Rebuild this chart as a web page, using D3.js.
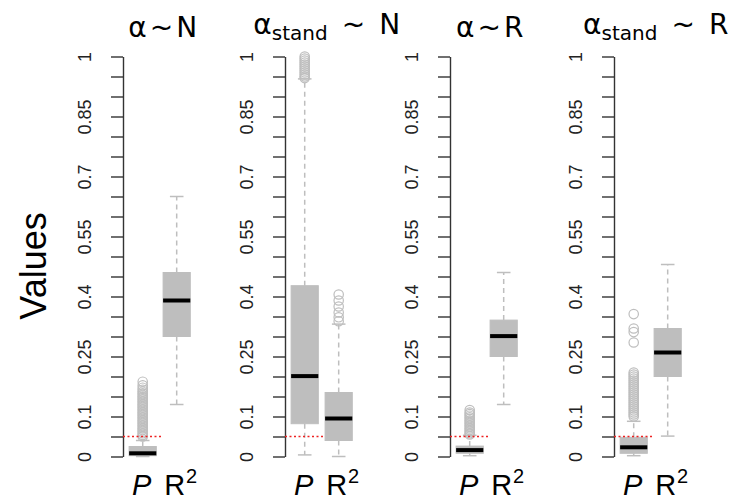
<!DOCTYPE html>
<html>
<head>
<meta charset="utf-8">
<script src="https://cdn.jsdelivr.net/npm/d3@7"></script>
<style>
  body { margin: 0; background: #fff; }
  svg { display: block; }
</style>
</head>
<body>
<script>
// panels (titles split into base / subscript / rest)
const titleBase = ["α", "α", "α", "α"];
const titleSub = ["", "stand", "", "stand"];
const titleRest = ["N", "N", "R", "R"];
const groups = ["P", "R"];

// box stats: [lower whisker, q1, median, q3, upper whisker]
const pStats = [
    [0.0, 0.002, 0.008, 0.025, 0.04],
    [0.004, 0.082, 0.201, 0.427, 0.944],
    [0.002, 0.008, 0.016, 0.026, 0.053],
    [0.002, 0.008, 0.023, 0.048, 0.088]
];
const r2Stats = [
    [0.13, 0.30, 0.39, 0.46, 0.65],
    [0.0, 0.04, 0.095, 0.16, 0.331],
    [0.13, 0.25, 0.301, 0.341, 0.46],
    [0.051, 0.20, 0.26, 0.32, 0.48]
];
const pOutliers = [
    [0.187, 0.178, 0.172, 0.167, 0.162, 0.158, 0.154, 0.150, 0.146, 0.142, 0.138, 0.134, 0.130,
     0.126, 0.122, 0.118, 0.114, 0.110, 0.106, 0.102, 0.098, 0.094, 0.090, 0.086, 0.082, 0.078,
     0.074, 0.070, 0.066, 0.062, 0.058, 0.054, 0.050],
    [1.0, 0.995, 0.99, 0.985, 0.98, 0.975, 0.97, 0.965, 0.96, 0.955, 0.95, 0.946],
    [0.116, 0.110, 0.106, 0.102, 0.098, 0.094, 0.090, 0.086, 0.082, 0.078, 0.074, 0.070, 0.066,
     0.062, 0.058, 0.055],
    [0.356, 0.320, 0.311, 0.285, 0.210, 0.205, 0.200, 0.195, 0.190, 0.185, 0.180, 0.175, 0.170,
     0.165, 0.160, 0.155, 0.150, 0.145, 0.140, 0.135, 0.130, 0.125, 0.120, 0.115, 0.110, 0.105,
     0.100]
];
const r2Outliers = [
    [],
    [0.405, 0.39, 0.375, 0.36, 0.348, 0.338],
    [],
    []
];

const tickValues = [0, 0.05, 0.1, 0.15, 0.2, 0.25, 0.3, 0.35, 0.4, 0.45, 0.5,
    0.55, 0.6, 0.65, 0.7, 0.75, 0.8, 0.85, 0.9, 0.95, 1];
const tickLabels = [1, 0.85, 0.7, 0.55, 0.4, 0.25, 0.1, 0];
const threshold = 0.05;

const width = 733, height = 502;
const axisX = [123, 285, 450, 614];
const boxGrey = "#bebebe";

const svg = d3.select("body").append("svg")
    .attr("width", width)
    .attr("height", height);

const y = d3.scaleLinear().domain([0, 1]).range([456.5, 56.5]);

// y label
svg.append("text")
    .attr("transform", "translate(46,266) rotate(-90)")
    .attr("text-anchor", "middle")
    .style("font-family", "Liberation Sans, Arial, sans-serif")
    .style("font-size", "36px")
    .text("Values");

titleBase.forEach((t, i) => {
    const x = d3.scaleLinear().domain([0.42, 2.58]).range([axisX[i], axisX[i] + 73.4]);
    const g = svg.append("g");

    // axis
    const axis = d3.axisLeft(y)
        .tickValues(tickValues)
        .tickSize(12)
        .tickSizeOuter(0)
        .tickFormat("");
    const ag = g.append("g")
        .attr("transform", `translate(${axisX[i]},0)`)
        .call(axis);
    ag.select(".domain").attr("stroke", "#333").attr("stroke-width", 1.4);
    ag.selectAll(".tick line").attr("stroke", "#333").attr("stroke-width", 1.4);
    ag.selectAll(".tick")
        .filter(d => tickLabels.some(v => Math.abs(v - d) < 1e-9))
        .append("text")
        .attr("transform", "translate(-32,0) rotate(-90)")
        .attr("text-anchor", "middle")
        .attr("fill", "#222")
        .style("font-family", "Liberation Sans, Arial, sans-serif")
        .style("font-size", "18px")
        .text(d => String(+d.toFixed(2)));

    // boxes
    const stats = [pStats[i], r2Stats[i]];
    const outs = [pOutliers[i], r2Outliers[i]];
    const boxW = x(1.4) - x(1);
    stats.forEach((s, j) => {
        const cx = x(j + 1);
        const [lo, q1, med, q3, hi] = s;
        // whiskers
        g.append("line")
            .attr("x1", cx).attr("x2", cx)
            .attr("y1", y(q3)).attr("y2", y(hi))
            .attr("stroke", boxGrey).attr("stroke-width", 1.5)
            .attr("stroke-dasharray", "5,4");
        g.append("line")
            .attr("x1", cx).attr("x2", cx)
            .attr("y1", y(q1)).attr("y2", y(lo))
            .attr("stroke", boxGrey).attr("stroke-width", 1.5)
            .attr("stroke-dasharray", "5,4");
        [lo, hi].forEach(v => {
            g.append("line")
                .attr("x1", cx - boxW / 2).attr("x2", cx + boxW / 2)
                .attr("y1", y(v)).attr("y2", y(v))
                .attr("stroke", boxGrey).attr("stroke-width", 1.5);
        });
        g.append("rect")
            .attr("x", cx - boxW)
            .attr("width", boxW * 2)
            .attr("y", y(q3))
            .attr("height", y(q1) - y(q3))
            .attr("fill", boxGrey)
            .attr("stroke", boxGrey)
            .attr("stroke-width", 1);
        g.append("line")
            .attr("x1", cx - boxW).attr("x2", cx + boxW)
            .attr("y1", y(med)).attr("y2", y(med))
            .attr("stroke", "#000").attr("stroke-width", 4);

        g.selectAll(null)
            .data(outs[j])
            .enter()
            .append("circle")
            .attr("cx", cx)
            .attr("cy", d => y(d))
            .attr("r", 4.7)
            .attr("fill", "none")
            .attr("stroke", boxGrey)
            .attr("stroke-width", 1.2);
    });

    // threshold line
    g.append("line")
        .attr("x1", axisX[i]).attr("x2", x(1.56))
        .attr("y1", y(threshold)).attr("y2", y(threshold))
        .attr("stroke", "#ee2222").attr("stroke-width", 1.5)
        .attr("stroke-dasharray", "2,2.5");

    // x labels
    g.append("text")
        .attr("x", x(1) - 1)
        .attr("y", 495)
        .attr("text-anchor", "middle")
        .style("font-family", "Liberation Sans, Arial, sans-serif")
        .style("font-size", "29px")
        .style("font-style", "italic")
        .text(groups[0]);
    const rl = g.append("text")
        .attr("x", x(2) + 4)
        .attr("y", 495)
        .attr("text-anchor", "middle")
        .style("font-family", "Liberation Sans, Arial, sans-serif")
        .style("font-size", "29px");
    rl.append("tspan").text(groups[1]);
    rl.append("tspan").attr("dy", -12).attr("dx", 1).style("font-size", "20px").text("2");

    // title
    const hasSub = titleSub[i] !== "";
    const tt = g.append("text")
        .attr("x", (x(0.42) + x(2.58)) / 2 + (hasSub ? 5 : 3))
        .attr("y", hasSub ? 33.5 : 36.7)
        .attr("text-anchor", "middle")
        .style("font-family", "DejaVu Sans, sans-serif")
        .style("font-size", "28px");
    tt.append("tspan").text(t);
    if (hasSub) {
        tt.append("tspan").attr("dy", 6).style("font-size", "20px").text(titleSub[i]);
        tt.append("tspan").attr("dy", -6).attr("dx", 14).text("~");
        tt.append("tspan").attr("dx", 14).text(titleRest[i]);
    } else {
        tt.append("tspan").attr("dx", 3).text("~");
        tt.append("tspan").attr("dx", 3).text(titleRest[i]);
    }
});
</script>
</body>
</html>
